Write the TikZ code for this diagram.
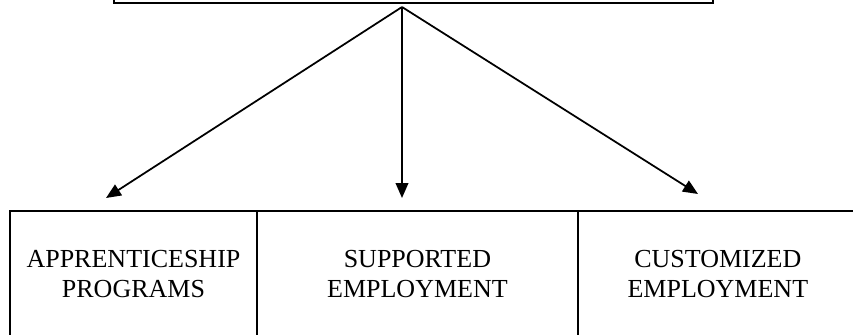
\documentclass[tikz,border=0pt]{standalone}
\usepackage{fontspec}
\setmainfont{Liberation Serif}
\usetikzlibrary{arrows.meta}

\tikzset{
  box/.style={draw=black, line width=1.2pt, outer sep=0pt, inner sep=0pt,
    minimum height=2.52cm, anchor=south west, align=center,
    font=\fontsize{14.8}{17}\selectfont},
  link/.style={-{Triangle[length=8.5pt,width=7.2pt]}, line width=1pt}
}

\begin{document}
\begin{tikzpicture}[x=0.02cm,y=0.02cm]
  \useasboundingbox (0,0) rectangle (853,335);
  \clip (0,0) rectangle (853,335);

  % top box (only its lower edge shows)
  \node[box, minimum width=11.98cm, minimum height=0.8cm] (head) at (114,332) {};

  % bottom row
  \node[box, minimum width=4.94cm] (appr) at (10,-2) {APPRENTICESHIP\\PROGRAMS};
  \node[box, minimum width=6.42cm] (supp) at (appr.south east) {SUPPORTED\\EMPLOYMENT};
  \node[box, minimum width=5.6cm] (cust) at (supp.south east) {CUSTOMIZED\\EMPLOYMENT};

  % arrows
  \coordinate (apex) at (402,328);
  \coordinate (tipA) at (106,137);
  \coordinate (tipB) at (402,137);
  \coordinate (tipC) at (698,141);
  \draw[link] (apex) -- (tipA);
  \draw[link] (apex) -- (tipB);
  \draw[link] (apex) -- (tipC);
\end{tikzpicture}
\end{document}
